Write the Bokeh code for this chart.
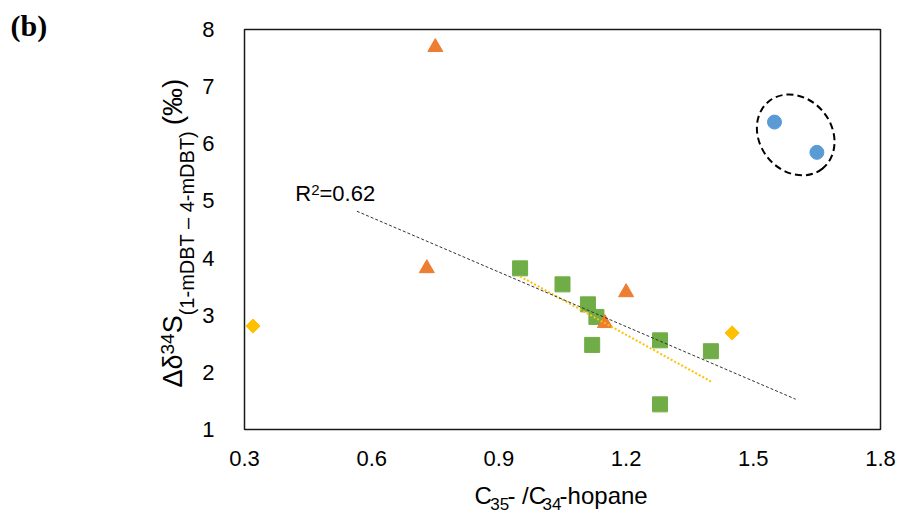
import math
from bokeh.plotting import figure
from bokeh.layouts import row, column
from bokeh.models import Range1d, FixedTicker, Label
from bokeh.embed import file_html
from bokeh.resources import INLINE

# ---------------- data ----------------
x_ticks = [0.3, 0.6, 0.9, 1.2, 1.5, 1.8]
x_tick_labels = ["0.3", "0.6", "0.9", "1.2", "1.5", "1.8"]
y_ticks = [1, 2, 3, 4, 5, 6, 7, 8]
y_tick_labels = ["1", "2", "3", "4", "5", "6", "7", "8"]

circle_x = [1.55, 1.65]
circle_y = [6.38, 5.85]

triangle_x = [0.75, 0.73, 1.20, 1.15]
triangle_y = [7.69, 3.82, 3.40, 2.86]

square_x = [0.95, 1.05, 1.11, 1.13, 1.12, 1.28, 1.40, 1.28]
square_y = [3.82, 3.54, 3.19, 2.97, 2.48, 2.56, 2.37, 1.44]

diamond_x = [0.32, 1.45]
diamond_y = [2.81, 2.69]

trend_all_x = [0.565, 1.60]
trend_all_y = [4.82, 1.53]

trend_sq_x = [0.95, 1.40]
trend_sq_y = [3.68, 1.84]

r2_main, r2_sup, r2_rest = "R", "2", "=0.62"
panel_tag = "(b)"

# ---------------- layout geometry (page pixels) ----------------
W, H = 901, 520
FL, FR, FT, FB = 242, 880, 29, 429      # plot frame edges
LW = 199                                 # width of left title strip
PH = 479                                 # height of main figure
X0, X1 = x_ticks[0], x_ticks[-1]
Y0, Y1 = y_ticks[0], y_ticks[-1]
FONT = "Liberation Sans"
BASE_K = 0.4   # offset between Bokeh's label anchor and the drawn baseline (fraction of size)

# ---------------- main figure ----------------
p = figure(width=W - LW, height=PH, output_backend="svg", toolbar_location=None,
           x_range=Range1d(X0, X1), y_range=Range1d(Y0, Y1),
           min_border_left=FL - LW, min_border_right=W - FR,
           min_border_top=FT, min_border_bottom=PH - FB)
p.background_fill_color = "white"
p.border_fill_color = "white"
p.outline_line_color = "#1a1a1a"
p.outline_line_width = 1.5
p.xgrid.grid_line_color = None
p.ygrid.grid_line_color = None

for ax in (p.xaxis[0], p.yaxis[0]):
    ax.axis_line_color = None
    ax.major_tick_line_color = None
    ax.minor_tick_line_color = None
    ax.major_tick_in = 0
    ax.major_tick_out = 0
    ax.major_label_text_font = FONT
    ax.major_label_text_font_size = "22px"
    ax.major_label_text_color = "black"

p.xaxis.ticker = FixedTicker(ticks=x_ticks)
p.xaxis.major_label_overrides = {t: s for t, s in zip(x_ticks, x_tick_labels)}
p.xaxis.major_label_standoff = 21
p.yaxis.ticker = FixedTicker(ticks=y_ticks)
p.yaxis.major_label_overrides = {t: s for t, s in zip(y_ticks, y_tick_labels)}
p.yaxis.major_label_standoff = 30

p.scatter(square_x, square_y, marker="square", size=15,
          fill_color="#70AD47", line_color="#70AD47")
p.scatter(triangle_x, triangle_y, marker="triangle", size=15,
          fill_color="#ED7D31", line_color="#ED7D31")
p.scatter(circle_x, circle_y, marker="circle", size=14,
          fill_color="#5B9BD5", line_color="#5B9BD5")
p.scatter(diamond_x, diamond_y, marker="square", size=10, angle=math.pi / 4,
          fill_color="#FFC000", line_color="#FFC000")

p.line(trend_sq_x, trend_sq_y, line_color="#FFC000", line_width=2, line_dash="2 2")
p.line(trend_all_x, trend_all_y, line_color="#333333", line_width=1, line_dash="3 2")

cx = [sum(circle_x) / len(circle_x)]
cy = [sum(circle_y) / len(circle_y) + 0.04]
p.ellipse(x=cx, y=cy, width=86, height=72, angle=-0.9,
          width_units="screen", height_units="screen",
          fill_color=None, line_color="black", line_width=2, line_dash="7 4")

# ---------------- title strips (frames cover the whole strip) ----------------
def strip(w, h, x_from, y_top):
    f = figure(width=w, height=h, output_backend="svg", toolbar_location=None,
               x_range=Range1d(x_from, x_from + w), y_range=Range1d(y_top + h, y_top),
               x_axis_type=None, y_axis_type=None,
               min_border_left=0, min_border_right=0, min_border_top=0, min_border_bottom=0)
    f.outline_line_color = None
    f.background_fill_color = "white"
    f.border_fill_color = "white"
    return f

lp = strip(LW, H, 0, 0)             # left strip: page coords x 0..199, y 0..520
xl = strip(W - LW, H - PH, LW, PH)  # bottom strip: x 199..901, y 479..520

ADV = {' ': 278, '(': 333, ')': 333, '-': 333, '/': 278, '=': 584, '.': 278,
       'B': 667, 'C': 722, 'D': 722, 'S': 667, 'T': 611, 'R': 722,
       'm': 833, 'h': 556, 'o': 556, 'p': 556, 'a': 556, 'n': 556, 'e': 556,
       '\u2013': 556, '\u0394': 668, '\u03b4': 556, '\u2030': 1000}

def tw(text, size):
    return sum(ADV.get(c, 556) for c in text) * size / 1000.0

def run(fig, pieces, x0, y0, vertical=False, conv=None, font=FONT, style="normal"):
    pos = 0.0
    for text, size, shift in pieces:
        k = BASE_K * size
        if vertical:
            sx, sy, ang = x0 + shift - k, y0 - pos, math.pi / 2
        else:
            sx, sy, ang = x0 + pos, y0 + shift - k, 0
        if conv is not None:
            sx, sy = conv(sx, sy)
        fig.add_layout(Label(x=sx, y=sy, text=text, angle=ang,
                             text_font=font, text_font_size=f"{size}px",
                             text_font_style=style, text_color="black",
                             text_align="left", text_baseline="alphabetic"))
        pos += tw(text, size)

def to_data(px, py):
    return (X0 + (px - FL) * (X1 - X0) / (FR - FL),
            Y1 - (py - FT) * (Y1 - Y0) / (FB - FT))

# y-axis title: Δδ34S(1-mDBT – 4-mDBT) (‰)
run(lp, [("\u0394\u03b4", 27, 0), ("34", 19, -8), ("S", 27, 0),
         ("(1-mDBT \u2013 4-mDBT) ", 20, 11), ("(\u2030)", 28, 0)],
    183, 387, vertical=True)

# panel tag
run(lp, [(panel_tag, 30, 0)], 10, 37, font="Liberation Serif", style="bold")

# x-axis title: C35- /C34-hopane
run(xl, [("C", 24, 0), ("35", 17, 5), ("- /C", 24, 0), ("34", 17, 5), ("-hopane", 24, 0)],
    453, 505)

# R² label inside the plot
run(p, [(r2_main, 22, 0), (r2_sup, 15, -7), (r2_rest, 22, 0)], 293, 202, conv=to_data)

layout = row(lp, column(p, xl, spacing=0), spacing=0)
open("out.html", "w").write(file_html(layout, INLINE))
